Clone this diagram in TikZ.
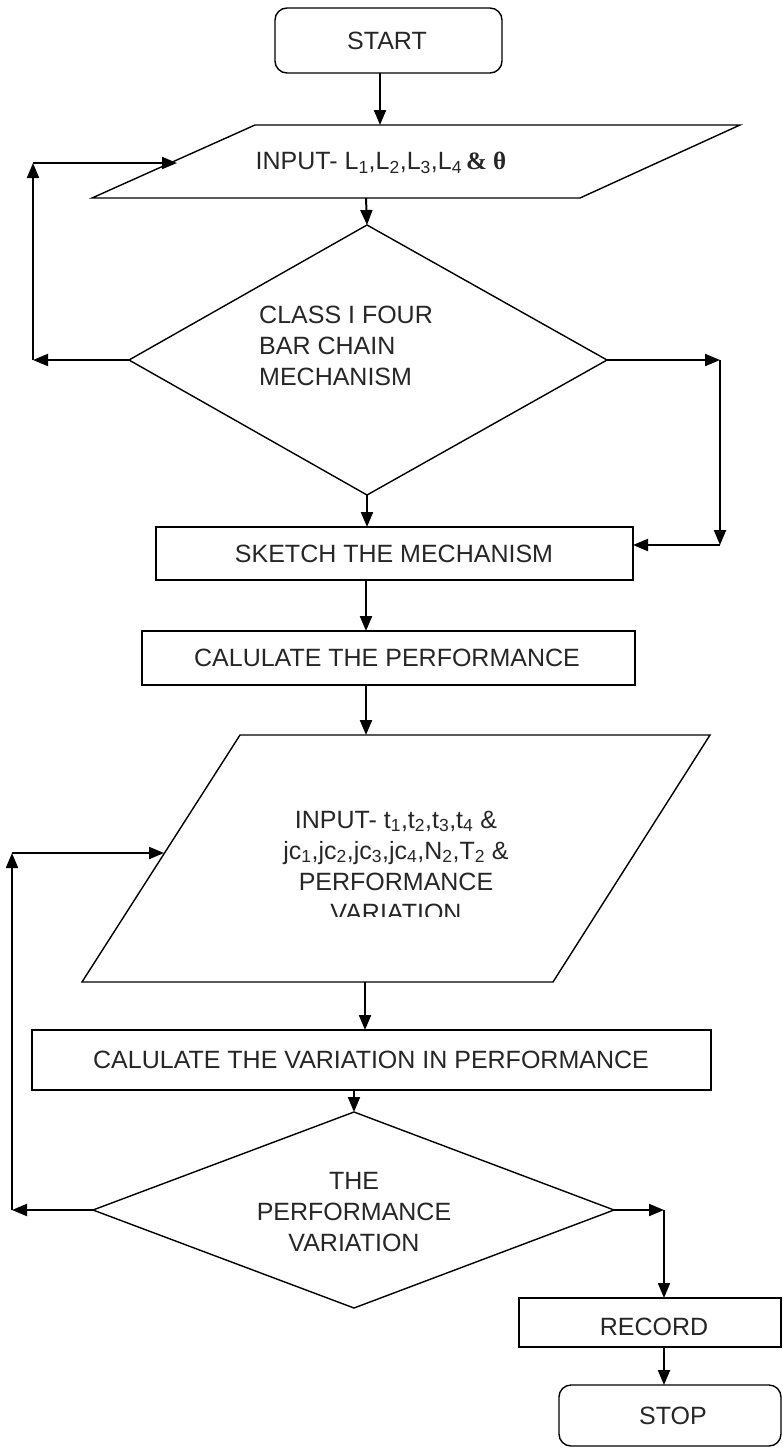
\documentclass[tikz,border=0pt]{standalone}
\usepackage{fontspec}
\setmainfont{Liberation Sans}
\newfontfamily\tnr{Liberation Serif}
\usetikzlibrary{arrows.meta}
\tikzset{
  shp/.style={draw=black, line width=1.4pt, line join=miter},
  arr/.style={draw=black, line width=2pt, -{Triangle[length=15pt,width=12pt]}},
  txt/.style={font=\fontsize{25}{31}\selectfont, inner sep=0pt, text=black!85},
}
\begin{document}
\begin{tikzpicture}[x=1pt,y=-1pt]
\useasboundingbox (0,0) rectangle (783,1449);
\fill[white] (0,0) rectangle (783,1449);

% ---- shapes ----
\draw[shp, rounded corners=12pt] (275,8) rectangle (502,73);
\node[txt] (start) at (387,41) {START};

\coordinate (p1tl) at (255,125); \coordinate (p1tr) at (740,125);
\coordinate (p1br) at (580,198); \coordinate (p1bl) at (92,198);
\draw[shp] (p1tl) -- (p1tr) -- (p1br) -- (p1bl) -- cycle;
\node[txt] (in1) at (381,163) {INPUT- L\textsubscript{1},L\textsubscript{2},L\textsubscript{3},L\textsubscript{4}\,{\tnr\bfseries \& θ}};

\coordinate (d1t) at (367,225); \coordinate (d1r) at (607,360);
\coordinate (d1b) at (367,495); \coordinate (d1l) at (129,360);
\draw[shp] (d1t) -- (d1r) -- (d1b) -- (d1l) -- cycle;
\node[txt, align=left, anchor=west] (cls) at (259,346) {CLASS I FOUR\\BAR CHAIN\\MECHANISM};

\draw[shp] (156,527) rectangle (633,580);
\node[txt] (sketch) at (394,554) {SKETCH THE MECHANISM};

\draw[shp] (142,631) rectangle (635,685);
\node[txt] (calc) at (387,658) {CALULATE THE PERFORMANCE};

\coordinate (p2tl) at (240,735); \coordinate (p2tr) at (710,735);
\coordinate (p2br) at (553,982); \coordinate (p2bl) at (82,982);
\draw[shp] (p2tl) -- (p2tr) -- (p2br) -- (p2bl) -- cycle;
\begin{scope}
\clip (0,700) rectangle (783,916);
\node[txt, align=center] (in2) at (396,866) {INPUT- t\textsubscript{1},t\textsubscript{2},t\textsubscript{3},t\textsubscript{4} \&\\jc\textsubscript{1},jc\textsubscript{2},jc\textsubscript{3},jc\textsubscript{4},N\textsubscript{2},T\textsubscript{2} \&\\PERFORMANCE\\VARIATION};
\end{scope}

\draw[shp] (32,1030) rectangle (711,1090);
\node[txt] (calc2) at (371,1060) {CALULATE THE VARIATION IN PERFORMANCE};

\coordinate (d2t) at (354,1112); \coordinate (d2r) at (614,1210);
\coordinate (d2b) at (354,1308); \coordinate (d2l) at (93,1210);
\draw[shp] (d2t) -- (d2r) -- (d2b) -- (d2l) -- cycle;
\node[txt, align=center] (perf) at (354,1212) {THE\\PERFORMANCE\\VARIATION};

\draw[shp] (519,1298) rectangle (781,1347);
\node[txt] (record) at (654,1327) {RECORD};

\draw[shp, rounded corners=12pt] (559,1385) rectangle (781,1446);
\node[txt] (stop) at (673,1416) {STOP};

% ---- connector points ----
\coordinate (a1s) at (380,73);  \coordinate (a1e) at (380,125);
\coordinate (a2s) at (366,198); \coordinate (a3s) at (367,495);
\coordinate (a3e) at (367,527); \coordinate (a4s) at (366,580);
\coordinate (a4e) at (366,631); \coordinate (a5s) at (366,685);
\coordinate (a5e) at (366,735); \coordinate (a6s) at (365,982);
\coordinate (a6e) at (365,1030); \coordinate (a7s) at (354,1090);
\coordinate (l1a) at (33,360);  \coordinate (l1b) at (33,163);
\coordinate (l1c) at (177,163);
\coordinate (r1a) at (720,360); \coordinate (r1b) at (720,545);
\coordinate (r1c) at (633,545);
\coordinate (l2a) at (12,1210); \coordinate (l2b) at (12,853);
\coordinate (l2c) at (164,853);
\coordinate (r2a) at (664,1210); \coordinate (r2b) at (664,1298);
\coordinate (a8s) at (664,1347); \coordinate (a8e) at (664,1385);

% ---- connectors ----
\draw[arr] (a1s) -- (a1e);
\draw[arr] (a2s) -- (d1t);
\draw[arr] (d1l) -- (l1a);
\draw[arr] (l1a) -- (l1b);
\draw[arr] (l1b) -- (l1c);
\draw[arr] (d1r) -- (r1a);
\draw[arr] (r1a) -- (r1b);
\draw[arr] (r1b) -- (r1c);
\draw[arr] (a3s) -- (a3e);
\draw[arr] (a4s) -- (a4e);
\draw[arr] (a5s) -- (a5e);
\draw[arr] (a6s) -- (a6e);
\draw[arr] (a7s) -- (d2t);
\draw[arr] (d2l) -- (l2a);
\draw[arr] (l2a) -- (l2b);
\draw[arr] (l2b) -- (l2c);
\draw[arr] (d2r) -- (r2a);
\draw[arr] (r2a) -- (r2b);
\draw[arr] (a8s) -- (a8e);
\end{tikzpicture}
\end{document}
